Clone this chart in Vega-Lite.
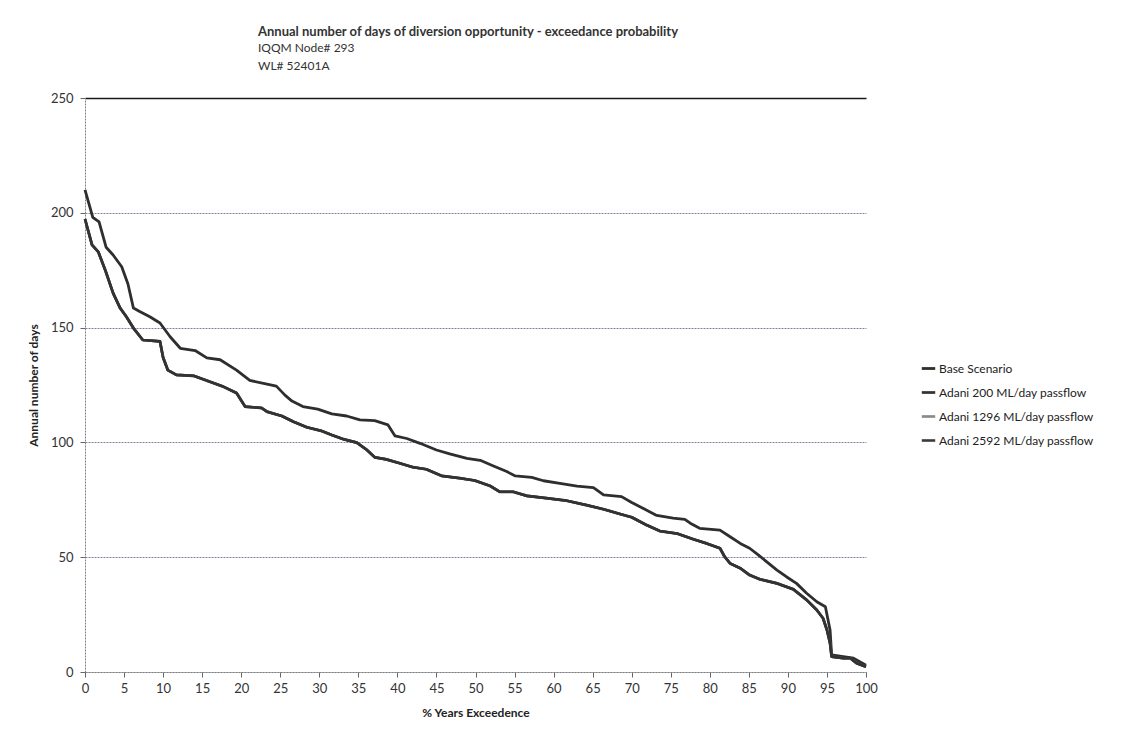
{
  "$schema": "https://vega.github.io/schema/vega-lite/v6.json",
  "autosize": {"type": "none"},
  "width": 781,
  "height": 574,
  "padding": {"left": 85, "top": 98, "right": 263, "bottom": 72},
  "background": "white",
  "config": {
    "font": "Lato",
    "view": {"stroke": null},
    "axis": {"labelFont": "Lato", "titleFont": "Lato"}
  },
  "title": {
    "text": "Annual number of days of diversion opportunity - exceedance probability",
    "subtitle": ["IQQM Node# 293", "WL# 52401A"],
    "anchor": "start",
    "frame": "group",
    "dx": 173,
    "offset": 20,
    "font": "Lato",
    "fontSize": 13,
    "fontWeight": "bold",
    "color": "#333333",
    "subtitleFont": "Lato",
    "subtitleFontSize": 12,
    "subtitleColor": "#333333",
    "subtitlePadding": 4,
    "subtitleLineHeight": 18
  },
  "datasets": {
    "base": [
      {"x": 0, "y": 210}, {"x": 1, "y": 198}, {"x": 1.8, "y": 196}, {"x": 2.7, "y": 185}, {"x": 3.6, "y": 181.6},
      {"x": 4.7, "y": 176.5}, {"x": 5.5, "y": 169}, {"x": 6.2, "y": 158.5}, {"x": 7, "y": 157}, {"x": 8.3, "y": 154.7},
      {"x": 9.6, "y": 152}, {"x": 10.9, "y": 146}, {"x": 12.2, "y": 141}, {"x": 14.1, "y": 140}, {"x": 15.6, "y": 136.8},
      {"x": 17.3, "y": 136}, {"x": 19.4, "y": 131.5}, {"x": 21.1, "y": 127}, {"x": 23.3, "y": 125.4}, {"x": 24.5, "y": 124.5},
      {"x": 25.6, "y": 120.6}, {"x": 26.5, "y": 118}, {"x": 27.9, "y": 115.6}, {"x": 29.8, "y": 114.5}, {"x": 31.6, "y": 112.4},
      {"x": 33.5, "y": 111.5}, {"x": 35.2, "y": 109.8}, {"x": 37.1, "y": 109.5}, {"x": 38.8, "y": 107.6}, {"x": 39.7, "y": 102.8},
      {"x": 41.2, "y": 101.7}, {"x": 42.9, "y": 99.6}, {"x": 45, "y": 96.7}, {"x": 46.7, "y": 95}, {"x": 48.9, "y": 93},
      {"x": 50.6, "y": 92.2}, {"x": 52.3, "y": 89.7}, {"x": 54, "y": 87.3}, {"x": 55.1, "y": 85.4}, {"x": 57.2, "y": 84.8},
      {"x": 58.7, "y": 83.3}, {"x": 60.8, "y": 82.2}, {"x": 63, "y": 81}, {"x": 65.1, "y": 80.3}, {"x": 66.4, "y": 77.1},
      {"x": 68.7, "y": 76.4}, {"x": 70, "y": 73.8}, {"x": 71.5, "y": 71.2}, {"x": 73.2, "y": 68.2}, {"x": 75.3, "y": 67},
      {"x": 76.8, "y": 66.5}, {"x": 77.5, "y": 64.8}, {"x": 78.7, "y": 62.6}, {"x": 81.3, "y": 61.8}, {"x": 82.6, "y": 58.9},
      {"x": 83.9, "y": 56}, {"x": 85.1, "y": 53.9}, {"x": 86.2, "y": 51}, {"x": 87.3, "y": 48}, {"x": 88.6, "y": 44.4},
      {"x": 89.8, "y": 41.5}, {"x": 91.1, "y": 38.6}, {"x": 92.4, "y": 34.3}, {"x": 93.7, "y": 30.6}, {"x": 94.8, "y": 28.4},
      {"x": 95.4, "y": 18.3}, {"x": 95.6, "y": 7.4}, {"x": 97.1, "y": 6.7}, {"x": 98.4, "y": 6}, {"x": 99.2, "y": 4.5},
      {"x": 100, "y": 3}
    ],
    "adani": [
      {"x": 0, "y": 197.3}, {"x": 0.9, "y": 186}, {"x": 1.7, "y": 183}, {"x": 2.6, "y": 175}, {"x": 3.6, "y": 165},
      {"x": 4.5, "y": 158.5}, {"x": 5.3, "y": 154.7}, {"x": 6.2, "y": 149.8}, {"x": 7.4, "y": 144.6}, {"x": 9.6, "y": 144},
      {"x": 10, "y": 137}, {"x": 10.6, "y": 131.5}, {"x": 11.7, "y": 129.4}, {"x": 13.9, "y": 129}, {"x": 16, "y": 126.4},
      {"x": 17.7, "y": 124.3}, {"x": 19.4, "y": 121.5}, {"x": 20.5, "y": 115.6}, {"x": 22.6, "y": 115}, {"x": 23.3, "y": 113.4},
      {"x": 25.2, "y": 111.5}, {"x": 26.7, "y": 109}, {"x": 28.4, "y": 106.6}, {"x": 30.3, "y": 105}, {"x": 31.6, "y": 103.2},
      {"x": 33.1, "y": 101.4}, {"x": 34.8, "y": 99.9}, {"x": 36.1, "y": 96.7}, {"x": 37.1, "y": 93.5}, {"x": 38.6, "y": 92.6},
      {"x": 40.3, "y": 90.9}, {"x": 42, "y": 89.2}, {"x": 43.7, "y": 88.3}, {"x": 45.7, "y": 85.4}, {"x": 48, "y": 84.4},
      {"x": 49.9, "y": 83.4}, {"x": 51.9, "y": 81}, {"x": 53.1, "y": 78.5}, {"x": 54.8, "y": 78.5}, {"x": 56.6, "y": 76.7},
      {"x": 59.1, "y": 75.7}, {"x": 61.7, "y": 74.6}, {"x": 64.2, "y": 72.7}, {"x": 66.4, "y": 70.9}, {"x": 68.5, "y": 68.8},
      {"x": 70, "y": 67.4}, {"x": 71.9, "y": 64}, {"x": 73.6, "y": 61.4}, {"x": 75.8, "y": 60.3}, {"x": 77.9, "y": 57.8},
      {"x": 79.6, "y": 56}, {"x": 81.3, "y": 53.9}, {"x": 81.9, "y": 50.2}, {"x": 82.6, "y": 47.3}, {"x": 83.9, "y": 45.2},
      {"x": 85.1, "y": 42.2}, {"x": 86.4, "y": 40.4}, {"x": 88.6, "y": 38.6}, {"x": 90.7, "y": 36}, {"x": 92.4, "y": 31.4},
      {"x": 93.7, "y": 27}, {"x": 94.5, "y": 23.4}, {"x": 95, "y": 18.3}, {"x": 95.4, "y": 12.5}, {"x": 95.6, "y": 6.7},
      {"x": 97.1, "y": 6}, {"x": 98, "y": 6}, {"x": 98.8, "y": 3.8}, {"x": 100, "y": 2.3}
    ]
  },
  "encoding": {
    "x": {
      "field": "x", "type": "quantitative",
      "scale": {"domain": [0, 100], "nice": false, "zero": false},
      "axis": {
        "title": "% Years Exceedence",
        "values": [0, 5, 10, 15, 20, 25, 30, 35, 40, 45, 50, 55, 60, 65, 70, 75, 80, 85, 90, 95, 100],
        "grid": false, "domainColor": "#808080", "domainDash": [2, 1], "tickColor": "#666666", "tickSize": 5,
        "labelFontSize": 13, "labelColor": "#333333", "labelPadding": 5, "labelFlush": false, "labelOverlap": false,
        "titleFontSize": 12, "titleFontWeight": "bold", "titleColor": "#222222", "titlePadding": 12
      }
    },
    "y": {
      "field": "y", "type": "quantitative",
      "scale": {"domain": [0, 250], "nice": false},
      "axis": {
        "title": "Annual number of days", "values": [0, 50, 100, 150, 200, 250],
        "grid": true,
        "gridColor": {"condition": {"test": "datum.value >= 250", "value": "#1a1a1a"}, "value": "#7d84a0"},
        "gridDash": {"condition": {"test": "datum.value >= 250", "value": []}, "value": [2, 1]},
        "gridWidth": {"condition": {"test": "datum.value >= 250", "value": 1.6}, "value": 1},
        "domainColor": "#808080", "domainDash": [2, 1], "tickColor": "#666666", "tickSize": 5,
        "labelFontSize": 13, "labelColor": "#333333", "labelPadding": 7,
        "titleFontSize": 12, "titleFontWeight": "bold", "titleColor": "#222222", "titlePadding": 10
      }
    },
    "color": {
      "field": "series", "type": "nominal",
      "scale": {
        "domain": ["Base Scenario", "Adani 200 ML/day passflow", "Adani 1296 ML/day passflow", "Adani 2592 ML/day passflow"],
        "range": ["#2e2e2e", "#333333", "#8a8a8a", "#3a3a3a"]
      },
      "legend": {
        "title": null, "orient": "none", "legendX": 835, "legendY": 262,
        "symbolType": "stroke", "symbolSize": 180, "labelFontSize": 12, "labelColor": "#222222",
        "rowPadding": 9, "labelOffset": 2, "labelFont": "Lato"
      }
    },
    "strokeWidth": {
      "field": "series", "type": "nominal",
      "scale": {
        "domain": ["Base Scenario", "Adani 200 ML/day passflow", "Adani 1296 ML/day passflow", "Adani 2592 ML/day passflow"],
        "range": [2.8, 2.6, 1, 1.2]
      }
    }
  },
  "layer": [
    {
      "data": {"name": "base"},
      "transform": [{"calculate": "'Base Scenario'", "as": "series"}],
      "mark": {"type": "line", "strokeJoin": "round"}
    },
    {
      "data": {"name": "adani"},
      "transform": [
        {"calculate": "['Adani 1296 ML/day passflow', 'Adani 2592 ML/day passflow']", "as": "series"},
        {"flatten": ["series"]}
      ],
      "mark": {"type": "line", "strokeJoin": "round"}
    },
    {
      "data": {"name": "adani"},
      "transform": [{"calculate": "'Adani 200 ML/day passflow'", "as": "series"}],
      "mark": {"type": "line", "strokeJoin": "round"}
    }
  ]
}
